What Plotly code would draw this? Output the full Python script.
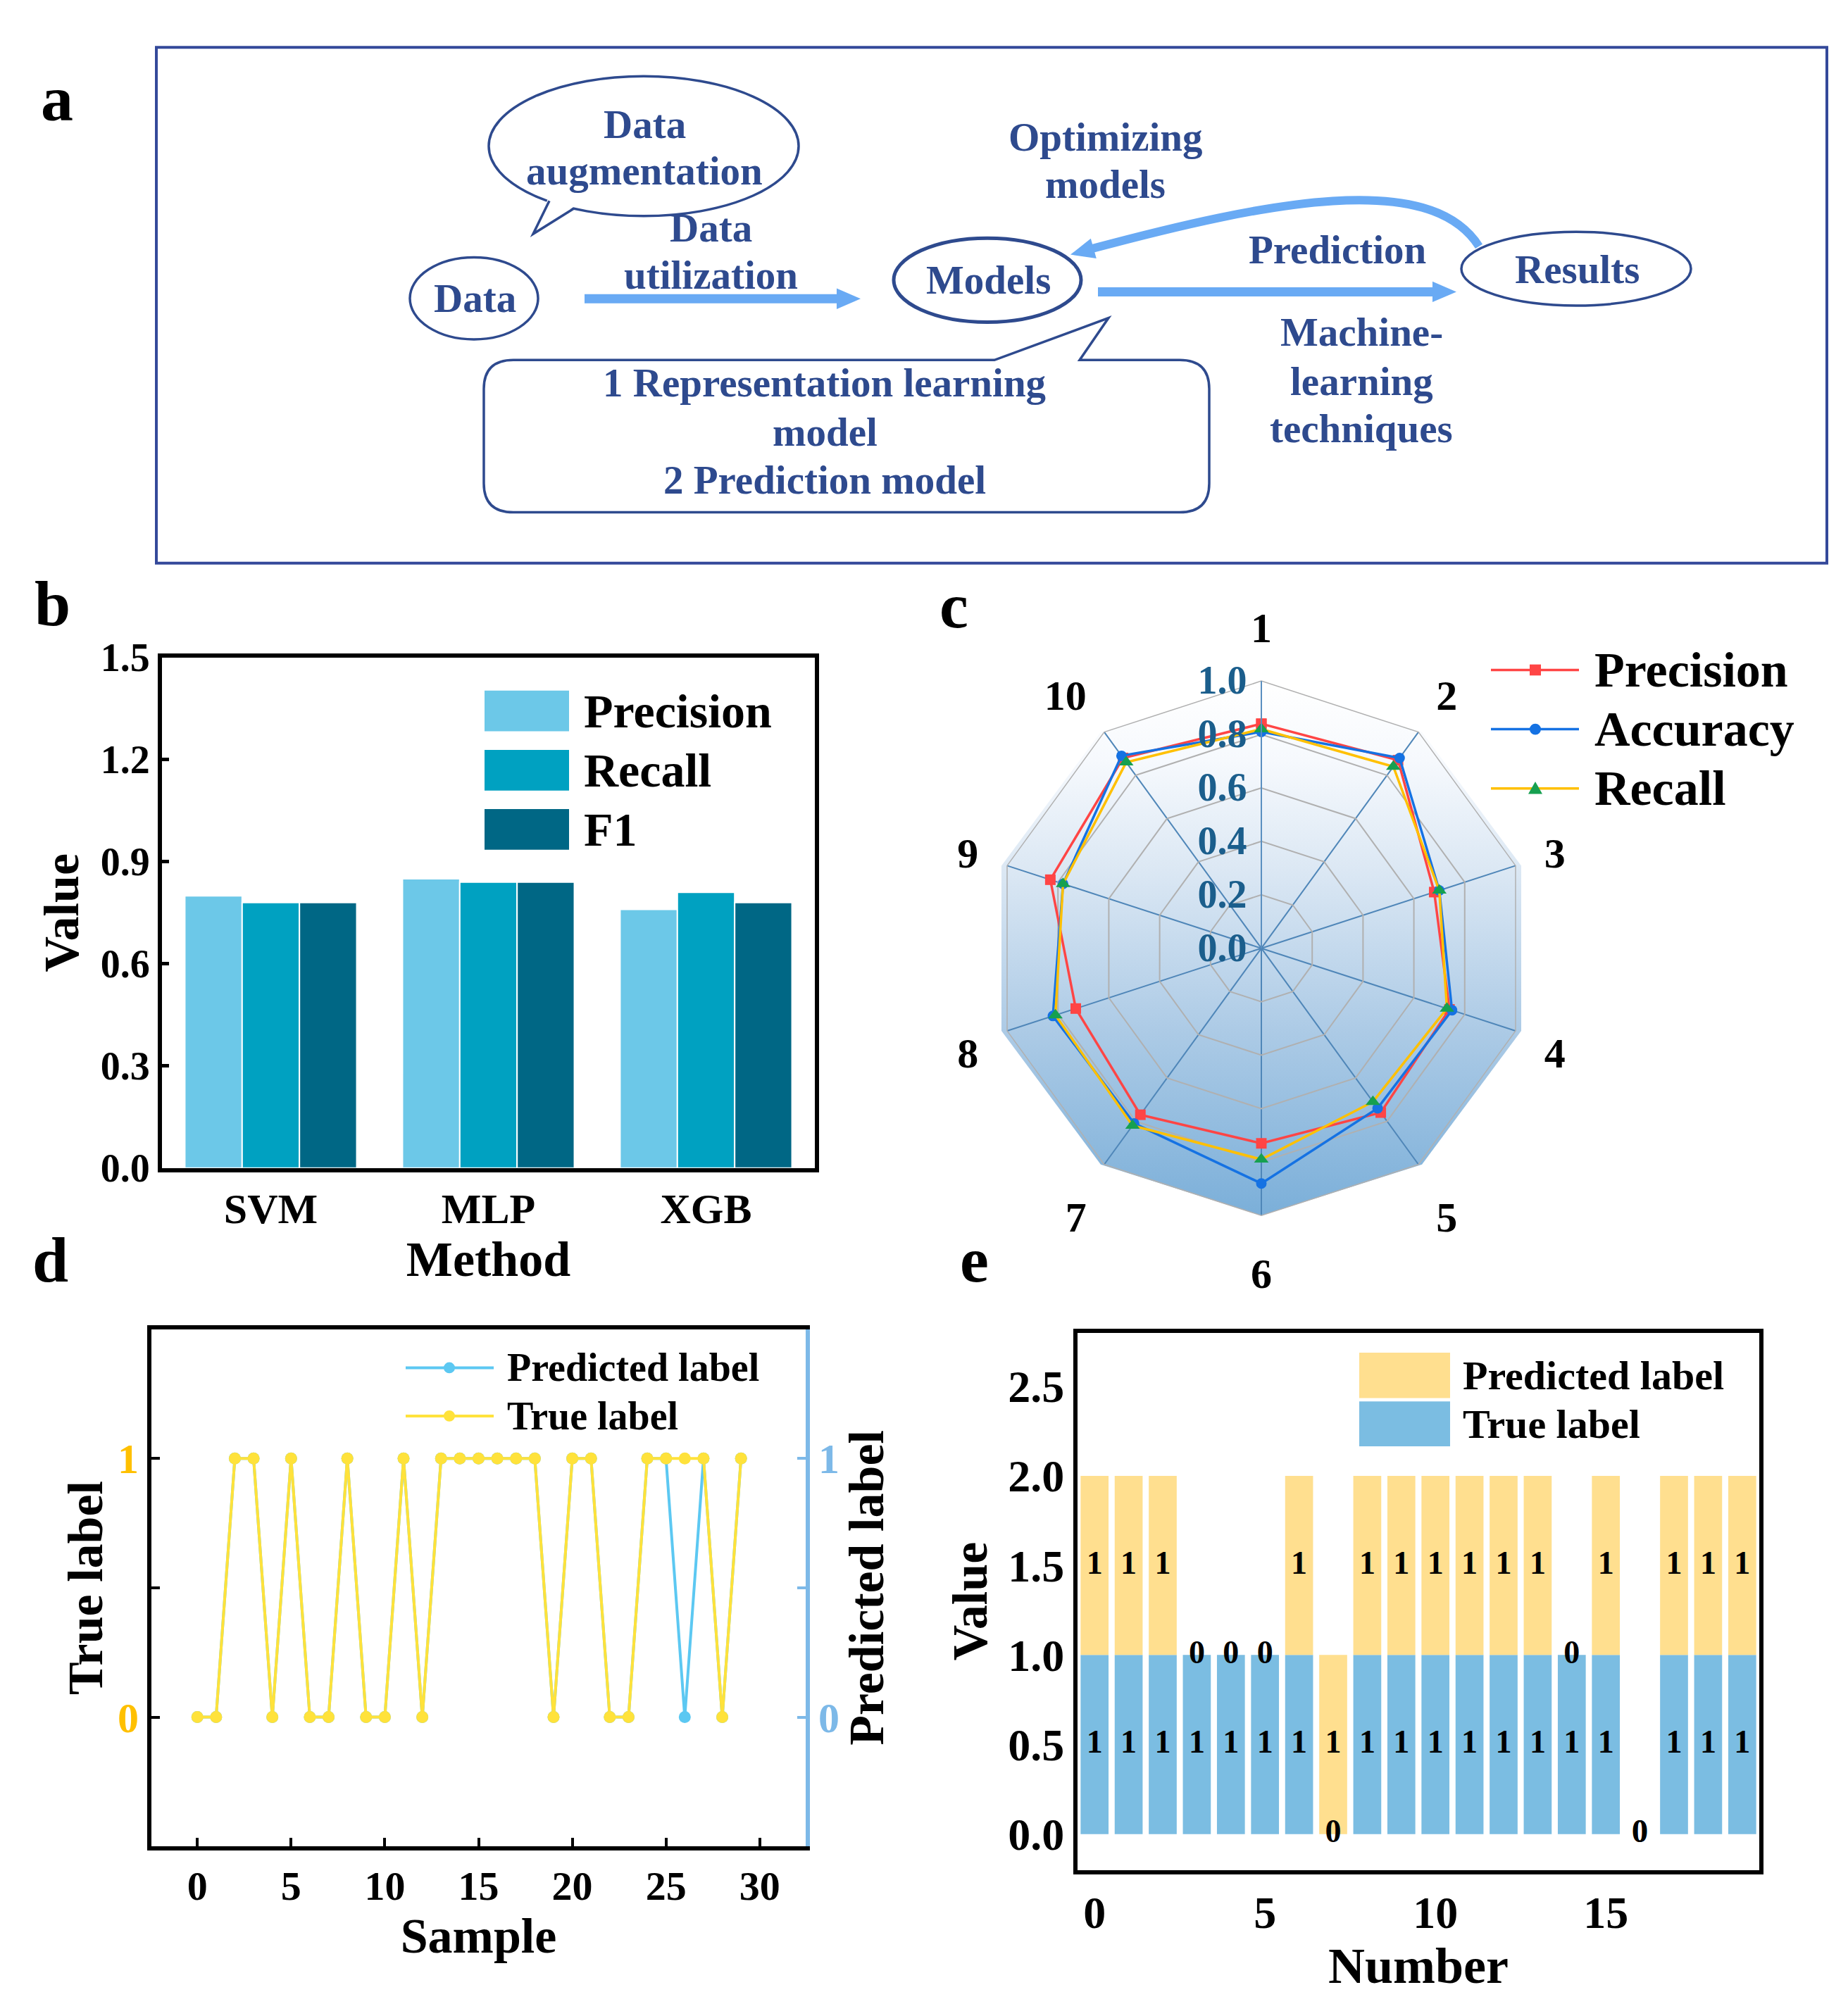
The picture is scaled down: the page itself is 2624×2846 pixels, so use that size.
import math
import plotly.graph_objects as go

W, H = 2624, 2846
def X(px): return px / W
def Y(py): return 1 - py / H

FONT = "Liberation Serif, Times New Roman, serif"
NAVY = "#2E4A8E"
ARROW = "#69AAF4"

# ---------------- data ----------------
methods = ["SVM", "MLP", "XGB"]
b_precision = [0.80, 0.85, 0.76]
b_recall = [0.78, 0.84, 0.81]
b_f1 = [0.78, 0.84, 0.78]
b_ticks = [0.0, 0.3, 0.6, 0.9, 1.2, 1.5]

c_axes = ["1", "2", "3", "4", "5", "6", "7", "8", "9", "10"]
c_precision = [0.84, 0.87, 0.68, 0.74, 0.76, 0.73, 0.77, 0.73, 0.83, 0.88]
c_accuracy = [0.81, 0.88, 0.70, 0.75, 0.74, 0.88, 0.81, 0.82, 0.78, 0.89]
c_recall = [0.82, 0.84, 0.70, 0.73, 0.71, 0.79, 0.82, 0.81, 0.78, 0.86]
c_rticks = [0.0, 0.2, 0.4, 0.6, 0.8, 1.0]

d_samples = list(range(30))
d_true = [0, 0, 1, 1, 0, 1, 0, 0, 1, 0, 0, 1, 0, 1, 1, 1, 1, 1, 1, 0, 1, 1, 0, 0, 1, 1, 1, 1, 0, 1]
d_pred = [0, 0, 1, 1, 0, 1, 0, 0, 1, 0, 0, 1, 0, 1, 1, 1, 1, 1, 1, 0, 1, 1, 0, 0, 1, 1, 0, 1, 0, 1]
d_xticks = [0, 5, 10, 15, 20, 25, 30]

e_numbers = list(range(20))
e_true = [1, 1, 1, 1, 1, 1, 1, 0, 1, 1, 1, 1, 1, 1, 1, 1, 0, 1, 1, 1]
e_pred = [1, 1, 1, 0, 0, 0, 1, 1, 1, 1, 1, 1, 1, 1, 0, 1, 0, 1, 1, 1]
e_xticks = [0, 5, 10, 15]
e_yticks = [0.0, 0.5, 1.0, 1.5, 2.0, 2.5]

# colours
B_COL = {"Precision": "#6CC8E8", "Recall": "#00A1C1", "F1": "#006785"}
C_LINE = {"Precision": "#FF4545", "Accuracy": "#1572E3", "Recall": "#FFC000"}
C_MARK = {"Precision": "#FF4545", "Accuracy": "#1572E3", "Recall": "#16A050"}
C_SYM = {"Precision": "square", "Accuracy": "circle", "Recall": "triangle-up"}
D_PRED = "#5CC8F2"
D_TRUE = "#FFE23B"
D_LEFT = "#FFC000"
D_RIGHT = "#7DB9E8"
E_PRED = "#FFDF8F"
E_TRUE = "#7BBDE2"

def F(size, color="black"):
    return dict(family=FONT, size=size, color=color, weight="bold")

fig = go.Figure()

# ---------------- panel b ----------------
for name, vals in [("Precision", b_precision), ("Recall", b_recall), ("F1", b_f1)]:
    fig.add_trace(go.Bar(x=methods, y=vals, name=name, xaxis="x", yaxis="y",
                         marker=dict(color=B_COL[name], line=dict(color="white", width=2)),
                         showlegend=False))

# ---------------- panel c ----------------
CX, CY, CR = 1791, 1346, 388
dec = [(math.cos(math.radians(90 - 36 * k)), math.sin(math.radians(90 - 36 * k))) for k in range(11)]
fig.add_trace(go.Scatter(x=[p[0] for p in dec], y=[p[1] for p in dec], xaxis="x2", yaxis="y2",
                         mode="lines", fill="toself", line=dict(width=0, color="rgba(0,0,0,0)"),
                         fillgradient=dict(type="vertical",
                                           colorscale=[[0, "#7BAFD9"], [0.35, "#ADCBE6"], [0.65, "#DCE8F4"],
                                                       [0.85, "#F6F9FD"], [1, "#FFFFFF"]]),
                         hoverinfo="skip", showlegend=False))
for name, vals in [("Precision", c_precision), ("Accuracy", c_accuracy), ("Recall", c_recall)]:
    fig.add_trace(go.Scatterpolar(r=vals + vals[:1], theta=c_axes + c_axes[:1], name=name,
                                  mode="lines+markers", subplot="polar",
                                  line=dict(color=C_LINE[name], width=3.5),
                                  marker=dict(symbol=C_SYM[name], color=C_MARK[name],
                                              size=18 if name == "Recall" else 15),
                                  showlegend=False))

# ---------------- panel d ----------------
fig.add_trace(go.Scatter(x=d_samples, y=d_pred, name="Predicted label", xaxis="x3", yaxis="y3",
                         mode="lines+markers", line=dict(color=D_PRED, width=4),
                         marker=dict(color=D_PRED, size=17), showlegend=False))
fig.add_trace(go.Scatter(x=d_samples, y=d_true, name="True label", xaxis="x3", yaxis="y4",
                         mode="lines+markers", line=dict(color=D_TRUE, width=4),
                         marker=dict(color=D_TRUE, size=17), showlegend=False))

# ---------------- panel e ----------------
fig.add_trace(go.Bar(x=e_numbers, y=e_true, base=0, name="True label", xaxis="x4", yaxis="y5",
                     width=0.82, offsetgroup="e", marker=dict(color=E_TRUE, line=dict(width=0)),
                     showlegend=False))
fig.add_trace(go.Bar(x=e_numbers, y=e_pred, base=e_true, name="Predicted label", xaxis="x4", yaxis="y5",
                     width=0.82, offsetgroup="e", marker=dict(color=E_PRED, line=dict(width=0)),
                     showlegend=False))
lab_y_true = [t / 2 if t else 0 for t in e_true]
lab_y_pred = [t + p / 2 if p else t for t, p in zip(e_true, e_pred)]
fig.add_trace(go.Scatter(x=e_numbers + e_numbers, y=lab_y_true + lab_y_pred,
                         text=[str(v) for v in e_true] + [str(v) for v in e_pred],
                         mode="text", textfont=F(46), xaxis="x4", yaxis="y5",
                         cliponaxis=False, hoverinfo="skip", showlegend=False))

# ---------------- axes ----------------
frame = dict(showline=True, linecolor="black", linewidth=6, mirror=True, showgrid=False, zeroline=False)

layout = dict(
    width=W, height=H, margin=dict(l=0, r=0, t=0, b=0),
    paper_bgcolor="white", plot_bgcolor="white",
    font=F(40), hovermode=False, bargap=0.21, bargroupgap=0,
    xaxis=dict(domain=[X(230), X(1157)], anchor="y", range=[-0.5, 2.5], ticks="",
               tickfont=F(60), title=dict(text="Method", font=F(70), standoff=0), **frame),
    yaxis=dict(domain=[Y(1665), Y(924)], anchor="x", range=[0, 1.5], tickvals=b_ticks, tickformat=".1f",
               ticks="inside", ticklen=10, tickwidth=5, tickcolor="black", tickfont=F(56),
               title=dict(text="Value", font=F(70), standoff=10), **frame),
    xaxis2=dict(domain=[X(CX - CR), X(CX + CR)], anchor="y2", range=[-1, 1], visible=False),
    yaxis2=dict(domain=[Y(CY + CR), Y(CY - CR)], anchor="x2", range=[-1, 1], visible=False),
    polar=dict(
        domain=dict(x=[X(CX - CR), X(CX + CR)], y=[Y(CY + CR), Y(CY - CR)]),
        bgcolor="rgba(0,0,0,0)", gridshape="linear",
        radialaxis=dict(range=[0, 1], tickvals=c_rticks, tickformat=".1f", angle=90, tickangle=90,
                        side="counterclockwise", showline=True, linecolor="#5A8FC0", linewidth=2,
                        gridcolor="#B0B0B0", gridwidth=1.5, ticks="", tickfont=F(56, "#1B5E8C")),
        angularaxis=dict(direction="clockwise", rotation=90, type="category",
                         categoryorder="array", categoryarray=c_axes,
                         showline=True, linecolor="#B0B0B0", linewidth=1.5,
                         gridcolor="#4F86B8", gridwidth=1.8,
                         ticks="outside", ticklen=30, tickcolor="rgba(0,0,0,0)", tickfont=F(60)),
    ),
    xaxis3=dict(domain=[X(215), X(1144)], anchor="y3", range=[-2.45, 32.45], tickvals=d_xticks,
                ticks="inside", ticklen=12, tickwidth=4, tickcolor="black", tickfont=F(58),
                title=dict(text="Sample", font=F(70), standoff=0), **frame),
    yaxis3=dict(domain=[Y(2650), Y(1899)], anchor="x3", range=[-0.5, 1.5],
                tickvals=[0, 0.5, 1], ticktext=["0", "", "1"], ticks="inside", ticklen=12, tickwidth=4,
                tickcolor="black", tickfont=F(60, D_LEFT), showline=True, linecolor="black", linewidth=6,
                showgrid=False, zeroline=False,
                title=dict(text="True label", font=F(70), standoff=0)),
    yaxis4=dict(overlaying="y3", anchor="x3", side="right", range=[-0.5, 1.5],
                tickvals=[0, 0.5, 1], ticktext=["0", "", "1"], ticks="inside", ticklen=12, tickwidth=4,
                tickcolor=D_RIGHT, tickfont=F(60, D_RIGHT), showline=True, linecolor=D_RIGHT, linewidth=6,
                showgrid=False, zeroline=False,
                title=dict(text="Predicted label", font=F(70), standoff=9)),
    xaxis4=dict(domain=[X(1530), X(2498)], anchor="y5", range=[-0.5, 19.5], tickvals=e_xticks, ticks="",
                tickfont=F(64), title=dict(text="Number", font=F(72), standoff=0), **frame),
    yaxis5=dict(domain=[Y(2684), Y(1904)], anchor="x4", range=[-0.2, 2.8], tickvals=e_yticks,
                tickformat=".1f", ticks="", tickfont=F(64),
                title=dict(text="Value", font=F(70), standoff=9), **frame),
)
fig.update_layout(**layout)

# ---------------- annotations & shapes ----------------
ann = []
shapes = []

def text(x, baseline, s, size, color="black", xanchor="center"):
    ann.append(dict(x=X(x), y=Y(baseline - 0.3375 * size), xref="paper", yref="paper",
                    text=s, showarrow=False, xanchor=xanchor, yanchor="middle", font=F(size, color)))

# panel letters
for s, x, bl in [("a", 81, 143), ("b", 74, 876), ("c", 1354, 880), ("d", 71, 1829), ("e", 1383, 1829)]:
    text(x, bl, s, 92)

# panel a
shapes.append(dict(type="rect", xref="paper", yref="paper", x0=X(222), x1=X(2594), y0=Y(787), y1=Y(38),
                   line=dict(color="#34499A", width=4)))

def ellipse(x0, y0, x1, y1, w=3.5):
    shapes.append(dict(type="circle", xref="paper", yref="paper", x0=X(x0), x1=X(x1), y0=Y(y1), y1=Y(y0),
                       line=dict(color=NAVY, width=w), fillcolor="rgba(0,0,0,0)"))

def path(pts, close=True, fill=None, lw=3.5, color=NAVY):
    d = "M " + " L ".join(f"{X(a):.5f},{Y(b):.5f}" for a, b in pts) + (" Z" if close else "")
    shapes.append(dict(type="path", xref="paper", yref="paper", path=d,
                       fillcolor=fill if fill else "rgba(0,0,0,0)",
                       line=dict(color=color, width=lw)))

ellipse(582, 343, 764, 462)           # Data
ellipse(694, 80, 1134, 283)           # Data augmentation bubble
path([(778, 258), (757, 309), (817, 268)], close=True, fill="white", lw=0, color="white")
path([(780, 261), (757, 309), (815, 272)], close=False)
ellipse(1269, 315, 1535, 437, w=5)    # Models
ellipse(2075, 306, 2401, 413)         # Results

# rounded bubble with tail
x0, x1, y0, y1, R = 687, 1717, 492, 713, 42
def P(a, b): return f"{X(a):.5f},{Y(b):.5f}"
bubble = (f"M {P(x0+R, y0)} L {P(1412, y0)} L {P(1574, 431)} L {P(1533, y0)} L {P(x1-R, y0)} "
          f"Q {P(x1, y0)} {P(x1, y0+R)} L {P(x1, y1-R)} Q {P(x1, y1)} {P(x1-R, y1)} "
          f"L {P(x0+R, y1)} Q {P(x0, y1)} {P(x0, y1-R)} L {P(x0, y0+R)} Q {P(x0, y0)} {P(x0+R, y0)} Z")
shapes.append(dict(type="path", xref="paper", yref="paper", path=bubble,
                   line=dict(color=NAVY, width=3.5), fillcolor="rgba(0,0,0,0)"))

def head(tip, frm, length=34, half=15):
    dx, dy = tip[0] - frm[0], tip[1] - frm[1]
    n = math.hypot(dx, dy)
    ux, uy = dx / n, dy / n
    bx, by = tip[0] - ux * length, tip[1] - uy * length
    px_, py_ = -uy, ux
    path([tip, (bx + px_ * half, by + py_ * half), (bx - px_ * half, by - py_ * half)],
         close=True, fill=ARROW, lw=0, color=ARROW)

# straight arrows
shapes.append(dict(type="line", xref="paper", yref="paper", x0=X(830), x1=X(1195), y0=Y(403), y1=Y(403),
                   line=dict(color=ARROW, width=13)))
head((1222, 403), (1100, 403))
shapes.append(dict(type="line", xref="paper", yref="paper", x0=X(1559), x1=X(2040), y0=Y(393), y1=Y(393),
                   line=dict(color=ARROW, width=13)))
head((2068, 393), (1900, 393))
# curved arrow (Results -> Models): one smooth hump
curve = f"M {P(2100, 327)} C {P(2030, 215)} {P(1800, 262)} {P(1548, 331)}"
shapes.append(dict(type="path", xref="paper", yref="paper", path=curve,
                   line=dict(color=ARROW, width=12), fillcolor="rgba(0,0,0,0)"))
head((1520, 339), (1800, 262))

for s, x, bl in [("Data", 915, 169), ("augmentation", 915, 236), ("Data", 1009, 319), ("utilization", 1009, 388),
                 ("Data", 674, 421), ("Models", 1403, 395), ("Optimizing", 1570, 187), ("models", 1570, 256),
                 ("Prediction", 1899, 351), ("Results", 2239, 380), ("Machine-", 1933, 471),
                 ("learning", 1933, 542), ("techniques", 1933, 611), ("1 Representation learning", 1170, 544),
                 ("model", 1171, 616), ("2 Prediction model", 1171, 685)]:
    text(x, bl, s, 57, NAVY)

# legend b
for name, (ya, yb) in [("Precision", (972, 1031)), ("Recall", (1058, 1117)), ("F1", (1144, 1203))]:
    shapes.append(dict(type="rect", xref="paper", yref="paper", x0=X(688), x1=X(808), y0=Y(yb), y1=Y(ya),
                       fillcolor=B_COL[name], line=dict(width=0)))
    text(827, (ya + yb) / 2 + 0.3375 * 68, name, 68, xanchor="left")

# legend c
for name, yc in [("Precision", 942), ("Accuracy", 1028), ("Recall", 1114)]:
    shapes.append(dict(type="line", xref="paper", yref="paper", x0=X(2117), x1=X(2242), y0=Y(yc), y1=Y(yc),
                       line=dict(color=C_LINE[name], width=3.5)))
    mx = 2180
    if name == "Precision":
        shapes.append(dict(type="rect", xref="paper", yref="paper", x0=X(mx - 8), x1=X(mx + 8),
                           y0=Y(yc + 8), y1=Y(yc - 8), fillcolor=C_MARK[name], line=dict(width=0)))
    elif name == "Accuracy":
        shapes.append(dict(type="circle", xref="paper", yref="paper", x0=X(mx - 8), x1=X(mx + 8),
                           y0=Y(yc + 8), y1=Y(yc - 8), fillcolor=C_MARK[name], line=dict(width=0)))
    else:
        path([(mx, yc - 10), (mx + 10, yc + 8), (mx - 10, yc + 8)], close=True, fill=C_MARK[name], lw=0,
             color=C_MARK[name])
    text(2262, yc + 0.3375 * 70, name, 70, xanchor="left")

# legend d
for name, yc, col in [("Predicted label", 1955, D_PRED), ("True label", 2025, D_TRUE)]:
    shapes.append(dict(type="line", xref="paper", yref="paper", x0=X(576), x1=X(701), y0=Y(yc), y1=Y(yc),
                       line=dict(color=col, width=4)))
    shapes.append(dict(type="circle", xref="paper", yref="paper", x0=X(630), x1=X(646),
                       y0=Y(yc + 8), y1=Y(yc - 8), fillcolor=col, line=dict(width=0)))
    text(718, yc + 0.3375 * 56, name, 56, xanchor="left")

# legend e
for name, (ya, yb), col in [("Predicted label", (1933, 1999), E_PRED), ("True label", (2004, 2069), E_TRUE)]:
    shapes.append(dict(type="rect", xref="paper", yref="paper", x0=X(1930), x1=X(2059), y0=Y(yb), y1=Y(ya),
                       fillcolor=col, line=dict(width=0)))
    text(2075, (ya + yb) / 2 + 0.3375 * 58, name, 58, xanchor="left")

fig.update_layout(annotations=ann, shapes=shapes)

fig.write_html("out.html", config={"displayModeBar": False},
               post_script="document.body.style.margin='0px';")
